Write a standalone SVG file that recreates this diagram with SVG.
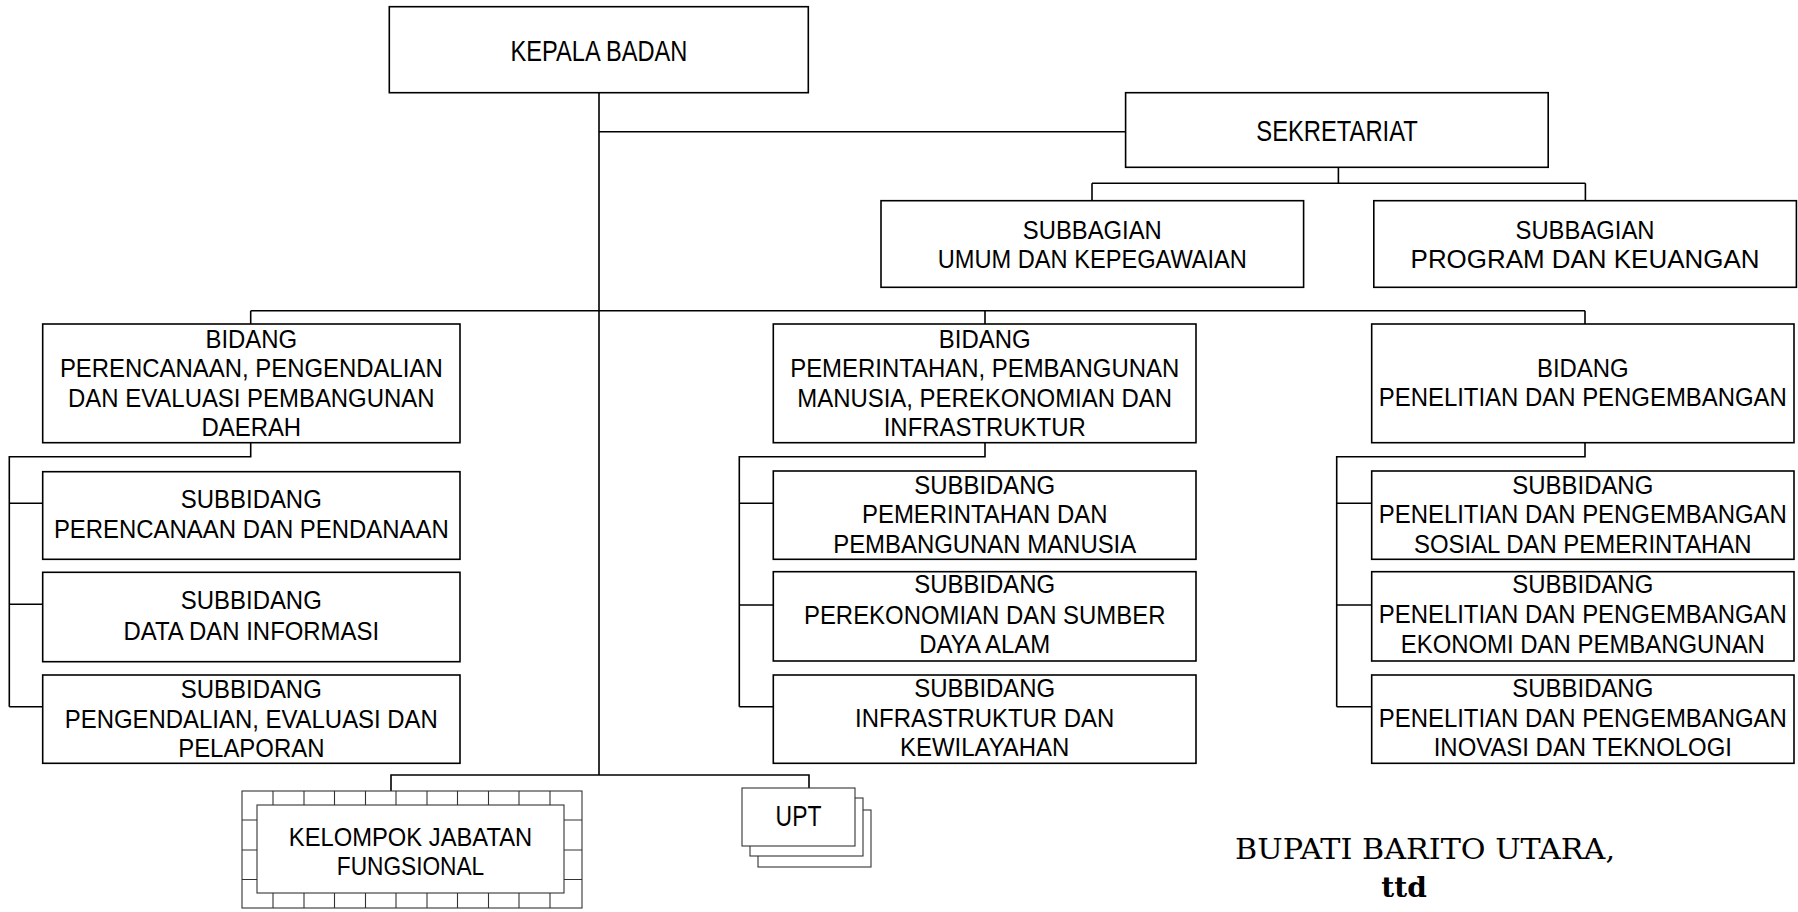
<svg xmlns="http://www.w3.org/2000/svg" width="1798" height="912" viewBox="0 0 1798 912">
<style>
.box{fill:#fff;stroke:#000;stroke-width:1.6}
.ln{fill:none;stroke:#000;stroke-width:1.6}
.thin{fill:#fff;stroke:#333;stroke-width:1.1}
.tl{fill:none;stroke:#333;stroke-width:1.1}
.t{font-family:"Liberation Sans",Arial,sans-serif;font-size:25.6px;fill:#000;text-anchor:middle}
.n{font-family:"Liberation Sans",Arial,sans-serif;font-size:29px;fill:#000;text-anchor:middle}
.m{font-family:"Liberation Sans",Arial,sans-serif;font-size:26px;fill:#000;text-anchor:middle}
.s{font-family:"DejaVu Serif","Liberation Serif",serif;font-size:28px;fill:#000}
</style>
<rect width="1798" height="912" fill="#fff"/>
<g id="connectors">
<path class="ln" d="M599,92.7V775 M599,131.7H1125.6 M1338.4,167.3V183.3 M1092,183.3H1585.4 M1092,183.3V200.7 M1585.4,183.3V200.7 M250.7,310.7H1585 M250.7,310.7V324 M985,310.7V324 M1585,310.7V324 M250.7,442.7V456.7H9.3V706.7 M9.3,503.3H42.7 M9.3,604.3H42.7 M9.3,706.7H42.7 M985,442.7V456.7H739.3V706.7 M739.3,503.3H773.3 M739.3,605H773.3 M739.3,706.7H773.3 M1585,442.7V456.7H1336.7V706.7 M1336.7,503.3H1371.7 M1336.7,605H1371.7 M1336.7,706.7H1371.7 M391,791V775H809V788"/>
</g>
<g id="kepala">
<rect class="box" x="389.3" y="6.7" width="419" height="86"/>
<text class="n" transform="translate(599,61) scale(0.815,1)">KEPALA BADAN</text>
</g>
<g id="sekretariat">
<rect class="box" x="1125.6" y="92.7" width="422.6" height="74.6"/>
<text class="n" transform="translate(1337,140.7) scale(0.819,1)">SEKRETARIAT</text>
</g>
<g id="subbagian-umum">
<rect class="box" x="881" y="200.7" width="422.6" height="86.6"/>
<text class="m" transform="translate(1092.3,239.3) scale(0.916,1)">SUBBAGIAN</text>
<text class="m" transform="translate(1092.3,268.3) scale(0.909,1)">UMUM DAN KEPEGAWAIAN</text>
</g>
<g id="subbagian-program">
<rect class="box" x="1373.8" y="200.7" width="422.6" height="86.6"/>
<text class="m" transform="translate(1585,239.3) scale(0.916,1)">SUBBAGIAN</text>
<text class="m" transform="translate(1585,268.3) scale(0.998,1)">PROGRAM DAN KEUANGAN</text>
</g>
<g id="bidang-perencanaan">
<rect class="box" x="42.7" y="324" width="417.3" height="118.7"/>
<g transform="translate(251.3,0) scale(0.935,1)">
<text class="t" y="348">BIDANG</text>
<text class="t" y="377.3">PERENCANAAN, PENGENDALIAN</text>
<text class="t" y="406.7">DAN EVALUASI PEMBANGUNAN</text>
<text class="t" y="436">DAERAH</text>
</g>
</g>
<g id="bidang-pemerintahan">
<rect class="box" x="773.3" y="324" width="422.7" height="118.7"/>
<g transform="translate(984.7,0) scale(0.935,1)">
<text class="t" y="348">BIDANG</text>
<text class="t" y="377.3">PEMERINTAHAN, PEMBANGUNAN</text>
<text class="t" y="406.7">MANUSIA, PEREKONOMIAN DAN</text>
<text class="t" y="436">INFRASTRUKTUR</text>
</g>
</g>
<g id="bidang-penelitian">
<rect class="box" x="1371.7" y="324" width="422.3" height="118.7"/>
<g transform="translate(1582.8,0) scale(0.935,1)">
<text class="t" y="376.7">BIDANG</text>
<text class="t" y="406">PENELITIAN DAN PENGEMBANGAN</text>
</g>
</g>
<g id="sub-perencanaan">
<rect class="box" x="42.7" y="471.7" width="417.3" height="87.6"/>
<g transform="translate(251.3,0) scale(0.935,1)">
<text class="t" y="508">SUBBIDANG</text>
<text class="t" y="538">PERENCANAAN DAN PENDANAAN</text>
</g>
</g>
<g id="sub-data">
<rect class="box" x="42.7" y="572.3" width="417.3" height="89.4"/>
<g transform="translate(251.3,0) scale(0.935,1)">
<text class="t" y="609.3">SUBBIDANG</text>
<text class="t" y="640">DATA DAN INFORMASI</text>
</g>
</g>
<g id="sub-pengendalian">
<rect class="box" x="42.7" y="675" width="417.3" height="88.3"/>
<g transform="translate(251.3,0) scale(0.935,1)">
<text class="t" y="698.3">SUBBIDANG</text>
<text class="t" y="728.3">PENGENDALIAN, EVALUASI DAN</text>
<text class="t" y="756.7">PELAPORAN</text>
</g>
</g>
<g id="sub-pemerintahan">
<rect class="box" x="773.3" y="471" width="422.7" height="88.3"/>
<g transform="translate(984.7,0) scale(0.935,1)">
<text class="t" y="494.3">SUBBIDANG</text>
<text class="t" y="523.3">PEMERINTAHAN DAN</text>
<text class="t" y="552.7">PEMBANGUNAN MANUSIA</text>
</g>
</g>
<g id="sub-perekonomian">
<rect class="box" x="773.3" y="571.7" width="422.7" height="89.3"/>
<g transform="translate(984.7,0) scale(0.935,1)">
<text class="t" y="593.3">SUBBIDANG</text>
<text class="t" y="623.7">PEREKONOMIAN DAN SUMBER</text>
<text class="t" y="653.3">DAYA ALAM</text>
</g>
</g>
<g id="sub-infrastruktur">
<rect class="box" x="773.3" y="675" width="422.7" height="88.3"/>
<g transform="translate(984.7,0) scale(0.935,1)">
<text class="t" y="697.5">SUBBIDANG</text>
<text class="t" y="727.5">INFRASTRUKTUR DAN</text>
<text class="t" y="756">KEWILAYAHAN</text>
</g>
</g>
<g id="sub-sosial">
<rect class="box" x="1371.7" y="471" width="422.3" height="88.3"/>
<g transform="translate(1582.8,0) scale(0.935,1)">
<text class="t" y="494.3">SUBBIDANG</text>
<text class="t" y="523.3">PENELITIAN DAN PENGEMBANGAN</text>
<text class="t" y="552.7">SOSIAL DAN PEMERINTAHAN</text>
</g>
</g>
<g id="sub-ekonomi">
<rect class="box" x="1371.7" y="571.7" width="422.3" height="89.3"/>
<g transform="translate(1582.8,0) scale(0.935,1)">
<text class="t" y="593.3">SUBBIDANG</text>
<text class="t" y="623.3">PENELITIAN DAN PENGEMBANGAN</text>
<text class="t" y="652.7">EKONOMI DAN PEMBANGUNAN</text>
</g>
</g>
<g id="sub-inovasi">
<rect class="box" x="1371.7" y="675" width="422.3" height="88.3"/>
<g transform="translate(1582.8,0) scale(0.935,1)">
<text class="t" y="696.7">SUBBIDANG</text>
<text class="t" y="726.7">PENELITIAN DAN PENGEMBANGAN</text>
<text class="t" y="756.2">INOVASI DAN TEKNOLOGI</text>
</g>
</g>
<g id="kelompok-jabatan-fungsional">
<rect class="thin" x="242" y="791" width="340" height="117"/>
<path class="tl" d="M273,791V805 M304,791V805 M334.5,791V805 M365.5,791V805 M396,791V805 M427,791V805 M457.5,791V805 M488.5,791V805 M519,791V805 M550,791V805 M273,893V908 M304,893V908 M334.5,893V908 M365.5,893V908 M396,893V908 M427,893V908 M457.5,893V908 M488.5,893V908 M519,893V908 M550,893V908 M242,820H257 M242,850H257 M242,879.5H257 M564,820H582 M564,850H582 M564,879.5H582"/>
<rect class="thin" x="257" y="805" width="307" height="88"/>
<text class="m" transform="translate(410.5,846) scale(0.914,1)">KELOMPOK JABATAN</text>
<text class="m" transform="translate(410.5,875) scale(0.872,1)">FUNGSIONAL</text>
</g>
<g id="upt">
<rect class="thin" x="758" y="810" width="113" height="57"/>
<rect class="thin" x="750" y="798" width="113" height="58"/>
<rect class="thin" x="742" y="788" width="113" height="58"/>
<text class="n" transform="translate(798.5,826) scale(0.79,1)">UPT</text>
</g>
<g id="signature">
<text class="s" x="1235" y="859" textLength="380" lengthAdjust="spacingAndGlyphs">BUPATI BARITO UTARA,</text>
<text class="s" x="1404" y="897" style="font-weight:bold;text-anchor:middle">ttd</text>
</g>
</svg>
